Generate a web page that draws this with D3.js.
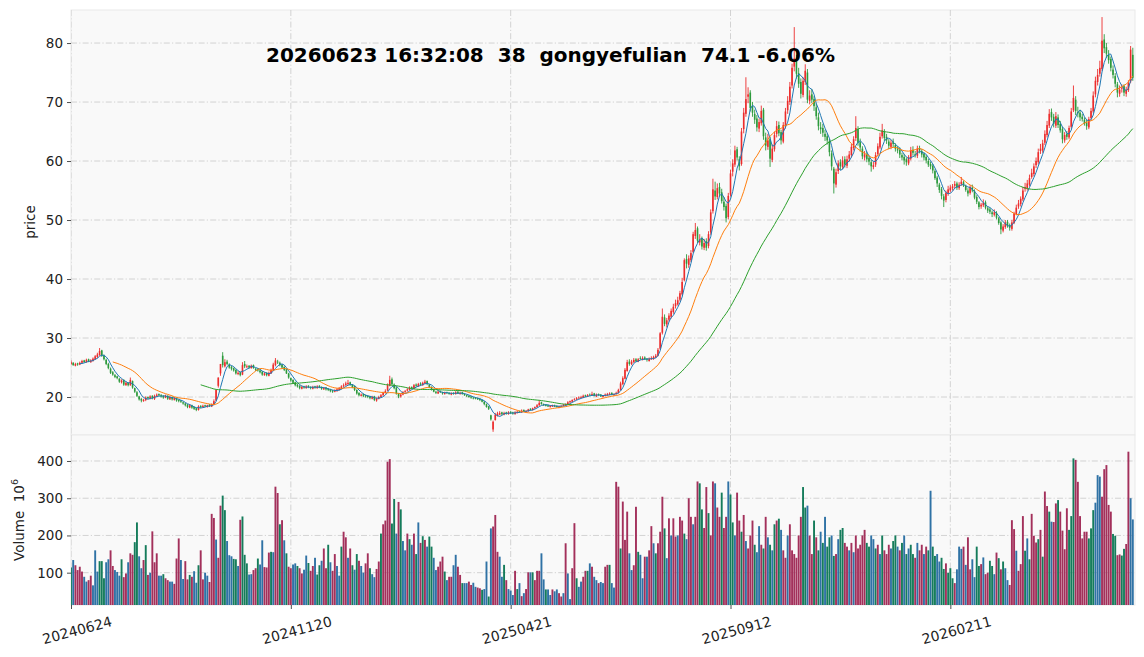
<!DOCTYPE html>
<html>
<head>
<meta charset="utf-8">
<script src="https://cdn.jsdelivr.net/npm/d3@7"></script>
<style>
  body { margin: 0; background: #fff; }
  svg { display: block; font-family: "DejaVu Sans", sans-serif; }
</style>
</head>
<body>
<svg id="chart" width="1144" height="657"></svg>
<script>
// ---- data (one entry per trading day) ----
const titleText = '20260623 16:32:08  38  gongyefulian  74.1 -6.06%'
const tickIdx = [0, 100, 200, 300, 400]
const tickLabels = ['20240624', '20241120', '20250421', '20250912', '20260211']
const priceTicks = [20, 30, 40, 50, 60, 70, 80]
const volTicks = [100, 200, 300, 400]
const maPeriods = [5, 20, 60]

const opens = [
  25.6, 25.8, 25.3, 25.7, 25.5, 25.8, 26.2, 25.9, 26.4, 25.9,
  26.1, 26.4, 26.8, 27.1, 27.9, 27.0, 26.3, 25.6, 24.8, 24.2,
  23.7, 23.5, 23.1, 22.5, 22.9, 22.0, 22.4, 22.0, 22.7, 21.5,
  20.8, 20.1, 19.7, 19.3, 19.5, 20.0, 19.8, 20.2, 19.7, 20.2,
  20.5, 20.3, 20.2, 19.9, 20.2, 19.6, 20.0, 19.5, 19.8, 19.5,
  19.4, 19.1, 18.9, 18.7, 18.2, 18.6, 18.3, 18.1, 17.8, 18.5,
  18.3, 18.6, 18.3, 18.7, 18.4, 18.7, 19.4, 21.9, 24.0, 27.0,
  25.2, 26.0, 25.5, 25.1, 24.9, 24.6, 23.9, 24.2, 23.8, 25.6,
  25.1, 25.3, 24.9, 25.4, 24.8, 24.7, 24.5, 24.3, 23.7, 24.1,
  23.6, 24.0, 24.5, 25.4, 26.0, 25.8, 25.5, 25.1, 24.7, 24.0,
  23.2, 22.9, 22.5, 22.1, 21.9, 21.4, 21.8, 21.5, 21.9, 21.7,
  21.4, 21.8, 21.5, 21.9, 21.7, 21.3, 21.6, 21.4, 21.3, 21.1,
  20.9, 21.0, 21.2, 21.4, 21.8, 22.0, 22.2, 22.5, 22.1, 21.8,
  21.2, 20.7, 20.2, 20.5, 20.3, 20.2, 20.1, 19.7, 20.1, 19.4,
  19.7, 20.0, 20.3, 20.7, 21.1, 21.9, 23.0, 22.1, 21.6, 20.5,
  20.1, 20.4, 20.9, 21.1, 21.2, 21.7, 21.4, 22.1, 21.8, 22.3,
  22.0, 22.3, 22.7, 22.1, 21.7, 21.3, 20.9, 20.6, 21.0, 20.8,
  20.5, 20.8, 20.7, 20.4, 20.7, 20.5, 20.9, 20.5, 20.8, 20.5,
  20.3, 20.2, 20.1, 19.9, 19.9, 19.8, 19.7, 19.5, 19.2, 18.8,
  18.4, 16.9, 14.5, 16.1, 16.8, 17.0, 17.4, 17.0, 17.4, 17.1,
  17.5, 17.4, 17.1, 17.3, 17.6, 17.4, 17.8, 17.5, 17.6, 18.0,
  17.8, 18.1, 18.3, 18.6, 19.1, 18.8, 18.7, 18.6, 18.3, 18.4,
  18.6, 18.5, 18.2, 18.4, 18.5, 18.6, 18.8, 19.1, 19.2, 19.5,
  19.6, 19.8, 20.0, 19.9, 20.3, 20.1, 20.4, 20.3, 20.6, 20.1,
  20.5, 20.4, 20.0, 20.2, 20.3, 20.4, 20.7, 20.3, 20.5, 20.7,
  21.2, 22.2, 23.1, 24.4, 26.0, 25.6, 25.9, 26.4, 26.0, 26.6,
  26.3, 26.7, 26.5, 26.1, 26.4, 26.5, 26.7, 27.0, 28.2, 30.9,
  33.5, 32.3, 33.1, 33.6, 34.4, 35.4, 35.7, 36.5, 37.4, 39.8,
  43.4, 42.4, 43.2, 44.6, 47.3, 48.6, 46.2, 46.9, 45.3, 46.4,
  45.6, 47.9, 51.5, 55.0, 53.9, 55.6, 54.7, 53.1, 52.4, 50.5,
  54.3, 58.2, 59.4, 62.0, 60.3, 59.5, 65.4, 68.0, 70.9, 71.6,
  69.3, 68.0, 67.2, 65.5, 66.4, 68.7, 64.0, 62.4, 63.7, 60.2,
  62.0, 64.6, 66.1, 64.9, 63.3, 66.0, 68.6, 70.0, 72.8, 76.0,
  77.0, 74.9, 73.4, 71.2, 73.4, 75.0, 70.2, 71.3, 70.5, 69.1,
  67.4, 65.7, 65.6, 64.6, 64.2, 63.4, 61.3, 58.7, 56.0, 58.3,
  59.8, 59.0, 60.3, 59.2, 60.4, 61.0, 62.2, 63.9, 65.4, 63.2,
  62.1, 60.6, 61.2, 60.5, 59.8, 59.0, 59.4, 61.2, 62.3, 64.2,
  65.0, 64.1, 63.3, 62.4, 63.3, 62.7, 62.0, 61.9, 61.0, 60.7,
  60.3, 59.6, 60.4, 61.9, 61.2, 60.9, 62.2, 61.7, 61.2, 60.7,
  60.0, 59.5, 59.2, 58.3, 57.2, 56.0, 55.2, 54.0, 53.4, 54.5,
  55.0, 55.4, 55.8, 56.2, 55.4, 56.1, 56.4, 55.8, 55.0, 54.6,
  55.5, 54.9, 53.9, 53.0, 52.3, 52.5, 53.0, 52.0, 51.8, 51.3,
  50.9, 51.2, 50.3, 49.6, 48.2, 48.8, 49.7, 49.1, 48.5, 49.5,
  51.0, 52.3, 52.7, 53.5, 55.3, 55.4, 56.0, 57.3, 57.8, 59.3,
  59.8, 61.7, 61.8, 63.1, 64.4, 66.0, 68.3, 67.5, 66.0, 67.4,
  66.3, 65.4, 63.5, 64.6, 64.0, 65.8, 68.6, 70.4, 68.3, 68.2,
  67.5, 67.0, 66.5, 65.7, 67.3, 68.4, 71.3, 73.4, 74.8, 75.6,
  80.6, 79.3, 78.0, 77.3, 75.5, 74.4, 73.0, 71.4, 72.3, 72.7,
  71.4, 72.0, 73.5, 78.0
]

const highs = [
  26.2, 25.9, 25.8, 25.8, 26.0, 26.3, 26.3, 26.5, 26.5, 26.4,
  26.7, 27.1, 27.5, 28.3, 28.0, 27.2, 26.5, 25.8, 25.0, 24.4,
  23.9, 23.6, 23.2, 23.0, 23.0, 22.6, 22.5, 23.3, 22.8, 21.6,
  21.0, 20.2, 19.8, 19.7, 20.1, 20.1, 20.3, 20.3, 20.4, 20.6,
  20.6, 20.5, 20.3, 20.4, 20.3, 20.2, 20.1, 20.0, 19.9, 19.6,
  19.5, 19.2, 19.0, 18.8, 18.8, 18.7, 18.4, 18.2, 18.6, 18.6,
  18.7, 18.7, 18.7, 18.8, 18.9, 19.6, 21.2, 23.3, 25.6, 27.6,
  26.4, 26.3, 25.7, 25.3, 25.0, 24.7, 24.4, 24.3, 25.9, 26.1,
  25.5, 25.4, 25.5, 25.5, 24.9, 24.9, 24.7, 24.4, 24.2, 24.2,
  24.3, 24.8, 25.8, 26.6, 26.3, 26.0, 25.6, 25.2, 24.8, 24.1,
  23.3, 23.0, 22.6, 22.2, 22.0, 21.9, 21.9, 22.0, 22.0, 21.8,
  21.9, 21.9, 22.0, 22.0, 21.8, 21.7, 21.7, 21.5, 21.4, 21.2,
  21.3, 21.5, 21.7, 22.0, 22.3, 22.6, 22.9, 22.6, 22.2, 21.9,
  21.3, 20.8, 20.6, 20.6, 20.4, 20.3, 20.2, 20.2, 20.2, 19.9,
  20.2, 20.5, 20.9, 21.3, 22.3, 23.6, 23.3, 22.3, 21.7, 20.7,
  20.6, 21.0, 21.2, 21.5, 21.8, 21.8, 22.2, 22.3, 22.4, 22.5,
  22.6, 22.9, 22.8, 22.2, 21.8, 21.4, 21.0, 21.1, 21.1, 20.9,
  20.9, 20.9, 20.8, 20.8, 20.8, 21.0, 21.0, 20.9, 20.9, 20.6,
  20.4, 20.3, 20.2, 20.0, 20.0, 19.9, 19.8, 19.6, 19.3, 18.9,
  18.5, 17.0, 16.0, 17.3, 17.5, 17.6, 17.5, 17.5, 17.5, 17.6,
  17.6, 17.5, 17.6, 17.7, 17.7, 17.9, 17.9, 17.8, 18.0, 18.1,
  18.2, 18.4, 18.8, 19.5, 19.2, 18.9, 18.8, 18.7, 18.6, 18.7,
  18.7, 18.6, 18.5, 18.6, 18.8, 18.9, 19.3, 19.4, 19.6, 19.8,
  20.0, 20.1, 20.2, 20.4, 20.4, 20.5, 20.6, 20.9, 20.7, 20.6,
  20.6, 20.5, 20.3, 20.6, 20.7, 20.8, 20.8, 20.6, 20.9, 21.4,
  22.6, 23.5, 24.9, 26.3, 26.4, 26.3, 26.6, 26.6, 26.6, 26.9,
  26.9, 26.9, 26.6, 26.7, 26.9, 27.0, 27.3, 28.3, 31.0, 35.0,
  34.0, 33.4, 34.2, 35.0, 35.8, 36.5, 37.0, 38.0, 40.2, 43.5,
  44.2, 44.0, 44.9, 48.0, 49.5, 48.9, 47.6, 47.2, 46.8, 46.9,
  48.1, 51.8, 57.0, 56.5, 56.2, 56.3, 55.3, 53.9, 52.8, 54.6,
  58.5, 60.3, 62.6, 62.4, 60.8, 65.6, 69.0, 74.2, 72.5, 72.0,
  70.0, 68.7, 67.8, 67.2, 69.4, 69.0, 64.8, 64.6, 64.1, 62.8,
  65.0, 66.8, 66.7, 65.3, 66.6, 69.0, 71.0, 73.4, 76.5, 82.7,
  78.0, 75.8, 74.0, 74.2, 76.4, 75.6, 72.0, 72.2, 71.0, 69.8,
  68.2, 66.6, 66.3, 65.3, 64.7, 63.8, 61.8, 59.0, 58.7, 60.1,
  60.3, 60.8, 60.8, 60.9, 61.7, 62.9, 64.2, 67.6, 65.9, 63.8,
  62.5, 61.7, 61.6, 60.9, 60.2, 59.9, 61.5, 63.0, 64.8, 66.3,
  65.4, 64.6, 63.7, 63.6, 63.8, 63.0, 62.5, 62.3, 61.4, 61.2,
  60.6, 61.0, 62.4, 62.5, 61.7, 62.6, 62.6, 62.0, 61.5, 61.0,
  60.4, 59.9, 59.5, 58.6, 57.5, 56.3, 55.6, 54.4, 55.0, 55.8,
  55.9, 56.1, 56.6, 56.5, 56.4, 57.3, 56.7, 56.0, 55.4, 55.9,
  56.0, 55.2, 54.2, 53.2, 52.9, 53.5, 53.3, 52.3, 52.1, 51.6,
  51.8, 51.5, 50.5, 49.8, 49.3, 50.0, 50.0, 49.4, 50.0, 51.4,
  52.6, 53.4, 54.0, 55.6, 56.3, 56.8, 57.7, 58.7, 59.6, 60.6,
  62.1, 62.9, 63.6, 65.2, 66.8, 68.8, 68.9, 68.0, 68.3, 67.9,
  66.8, 65.8, 64.9, 65.1, 66.0, 69.0, 72.8, 71.0, 69.2, 68.7,
  68.0, 67.4, 67.0, 67.5, 69.0, 71.8, 74.3, 75.6, 77.0, 84.4,
  81.5, 80.0, 78.8, 77.7, 76.2, 74.9, 73.4, 72.8, 73.0, 73.0,
  72.6, 73.7, 79.5, 79.2
]

const lows = [
  25.4, 25.3, 25.2, 25.3, 25.4, 25.7, 25.8, 25.8, 25.9, 25.8,
  26.0, 26.3, 26.6, 27.0, 26.8, 26.2, 25.4, 24.7, 23.9, 23.6,
  23.2, 23.0, 22.4, 22.3, 21.9, 21.9, 21.8, 21.9, 21.4, 20.7,
  20.0, 19.4, 19.1, 19.2, 19.3, 19.6, 19.6, 19.6, 19.5, 20.0,
  20.1, 19.9, 19.7, 19.8, 19.5, 19.5, 19.4, 19.4, 19.2, 19.1,
  19.0, 18.7, 18.4, 18.1, 18.1, 18.0, 17.8, 17.6, 17.7, 18.1,
  18.2, 18.3, 18.2, 18.3, 18.3, 18.6, 19.3, 21.6, 23.6, 25.0,
  25.0, 25.4, 24.8, 24.5, 24.3, 23.8, 23.7, 23.5, 23.7, 24.9,
  24.9, 24.8, 24.8, 24.8, 24.4, 24.3, 24.0, 23.6, 23.6, 23.5,
  23.5, 23.9, 24.4, 25.2, 25.6, 25.2, 24.8, 24.4, 23.9, 23.1,
  22.6, 22.2, 21.8, 21.6, 21.3, 21.3, 21.4, 21.4, 21.5, 21.3,
  21.3, 21.4, 21.4, 21.5, 21.2, 21.2, 21.1, 21.0, 20.8, 20.7,
  20.8, 20.9, 21.1, 21.3, 21.6, 21.9, 22.0, 21.9, 21.5, 21.0,
  20.4, 20.1, 20.1, 20.0, 19.9, 19.8, 19.6, 19.6, 19.3, 19.2,
  19.6, 19.9, 20.2, 20.6, 21.0, 21.8, 22.0, 21.3, 20.4, 19.8,
  19.9, 20.3, 20.7, 20.9, 21.1, 21.3, 21.3, 21.7, 21.7, 21.9,
  21.9, 22.2, 22.0, 21.5, 21.1, 20.8, 20.5, 20.5, 20.7, 20.4,
  20.4, 20.5, 20.4, 20.3, 20.4, 20.4, 20.5, 20.4, 20.4, 20.2,
  20.0, 19.9, 19.7, 19.6, 19.6, 19.5, 19.3, 19.1, 18.6, 18.2,
  17.8, 16.0, 14.1, 16.0, 16.7, 16.9, 16.9, 16.9, 17.0, 17.0,
  17.1, 17.0, 17.0, 17.2, 17.3, 17.3, 17.5, 17.4, 17.5, 17.7,
  17.7, 18.0, 18.2, 18.5, 18.7, 18.5, 18.4, 18.3, 18.2, 18.3,
  18.3, 18.2, 18.1, 18.3, 18.4, 18.5, 18.7, 19.0, 19.1, 19.4,
  19.5, 19.7, 19.8, 19.8, 20.0, 20.0, 20.2, 20.2, 20.1, 20.0,
  20.2, 20.0, 19.9, 20.1, 20.2, 20.3, 20.3, 20.2, 20.4, 20.6,
  21.1, 22.0, 23.0, 24.3, 25.3, 25.4, 25.8, 25.9, 25.9, 26.3,
  26.2, 26.3, 26.0, 26.0, 26.3, 26.3, 26.6, 26.9, 28.0, 30.6,
  32.0, 31.8, 32.8, 33.3, 34.1, 35.0, 35.5, 36.2, 37.2, 39.6,
  41.8, 41.9, 42.9, 44.4, 46.8, 46.1, 45.7, 45.0, 44.9, 44.8,
  45.2, 47.5, 51.1, 53.4, 53.5, 54.0, 52.8, 51.6, 49.6, 50.1,
  54.0, 57.4, 59.0, 60.1, 58.4, 59.2, 64.7, 67.5, 69.8, 68.4,
  67.5, 66.3, 65.0, 64.9, 66.0, 63.6, 61.8, 61.9, 59.0, 59.8,
  61.6, 64.0, 64.2, 62.8, 63.0, 65.5, 68.0, 69.5, 72.3, 75.2,
  74.0, 72.4, 70.6, 70.8, 72.9, 69.8, 69.6, 69.8, 68.5, 67.0,
  65.2, 64.6, 64.1, 63.4, 62.8, 60.8, 58.4, 54.5, 55.5, 57.8,
  58.5, 58.6, 58.9, 58.8, 59.9, 60.6, 61.8, 63.4, 62.6, 61.6,
  60.3, 60.1, 59.8, 59.3, 58.2, 58.6, 59.0, 60.8, 62.0, 63.8,
  63.4, 62.9, 62.0, 62.0, 62.3, 61.6, 61.3, 60.5, 60.1, 59.4,
  59.2, 59.3, 60.1, 60.9, 60.6, 60.5, 61.3, 60.6, 60.1, 59.6,
  59.0, 58.6, 57.9, 56.8, 55.6, 54.6, 53.5, 52.2, 53.0, 54.1,
  54.7, 55.0, 55.4, 55.1, 55.1, 55.8, 55.6, 54.8, 54.0, 54.3,
  54.7, 53.5, 52.7, 51.8, 51.9, 52.2, 51.8, 51.2, 51.0, 50.5,
  50.6, 50.1, 49.2, 47.6, 47.9, 48.5, 48.7, 48.2, 48.2, 49.3,
  50.8, 51.9, 52.3, 53.2, 54.8, 55.0, 55.7, 57.0, 57.4, 58.8,
  59.4, 61.2, 61.4, 62.7, 64.0, 65.6, 66.8, 65.7, 65.6, 65.6,
  64.8, 63.0, 63.1, 63.6, 63.7, 65.5, 68.3, 67.8, 67.4, 66.8,
  66.7, 66.0, 65.3, 65.4, 67.0, 68.1, 70.8, 72.8, 74.3, 75.3,
  78.3, 77.5, 76.5, 75.2, 74.0, 72.5, 70.8, 70.9, 71.6, 71.0,
  70.9, 71.7, 73.2, 73.6
]

const closes = [
  25.9, 25.4, 25.6, 25.5, 25.8, 26.1, 25.9, 26.3, 26.0, 26.2,
  26.5, 26.9, 27.2, 27.8, 27.0, 26.4, 25.6, 24.9, 24.1, 23.8,
  23.4, 23.2, 22.6, 22.8, 22.1, 22.4, 22.0, 22.9, 21.6, 20.9,
  20.2, 19.6, 19.4, 19.5, 19.9, 19.8, 20.1, 19.8, 20.2, 20.4,
  20.3, 20.1, 19.9, 20.2, 19.7, 20.0, 19.6, 19.8, 19.4, 19.3,
  19.2, 18.9, 18.6, 18.3, 18.6, 18.2, 18.0, 17.8, 18.4, 18.3,
  18.5, 18.4, 18.6, 18.5, 18.7, 19.3, 21.2, 23.3, 25.6, 25.4,
  25.9, 25.6, 25.0, 24.8, 24.5, 24.0, 24.1, 23.7, 25.4, 25.2,
  25.2, 25.0, 25.3, 24.9, 24.6, 24.5, 24.2, 23.8, 24.0, 23.7,
  24.1, 24.6, 25.5, 26.2, 25.9, 25.4, 25.0, 24.6, 24.0, 23.3,
  22.8, 22.4, 22.0, 21.8, 21.5, 21.7, 21.6, 21.8, 21.7, 21.5,
  21.7, 21.6, 21.8, 21.6, 21.4, 21.5, 21.3, 21.2, 21.0, 20.9,
  21.1, 21.3, 21.5, 21.8, 22.0, 22.3, 22.4, 22.1, 21.7, 21.2,
  20.6, 20.3, 20.4, 20.2, 20.1, 20.0, 19.8, 20.0, 19.5, 19.7,
  20.0, 20.3, 20.7, 21.0, 22.0, 22.9, 22.2, 21.5, 20.6, 20.1,
  20.4, 20.8, 21.0, 21.3, 21.6, 21.5, 22.0, 21.9, 22.2, 22.1,
  22.4, 22.6, 22.2, 21.7, 21.3, 20.9, 20.7, 20.9, 20.8, 20.6,
  20.7, 20.7, 20.5, 20.6, 20.6, 20.8, 20.6, 20.7, 20.5, 20.3,
  20.2, 20.0, 19.9, 19.8, 19.7, 19.6, 19.5, 19.2, 18.8, 18.3,
  18.0, 16.2, 15.8, 17.0, 17.2, 17.3, 17.1, 17.3, 17.2, 17.4,
  17.3, 17.2, 17.4, 17.5, 17.5, 17.7, 17.6, 17.6, 17.9, 17.8,
  18.1, 18.3, 18.6, 19.0, 18.8, 18.6, 18.5, 18.4, 18.5, 18.6,
  18.4, 18.3, 18.4, 18.5, 18.7, 18.8, 19.1, 19.3, 19.5, 19.6,
  19.8, 19.9, 20.0, 20.2, 20.1, 20.3, 20.3, 20.5, 20.2, 20.4,
  20.3, 20.1, 20.2, 20.4, 20.5, 20.6, 20.4, 20.5, 20.7, 21.2,
  22.3, 23.2, 24.6, 25.9, 25.6, 26.0, 26.3, 26.1, 26.4, 26.5,
  26.6, 26.4, 26.3, 26.5, 26.6, 26.8, 27.0, 28.0, 30.8, 33.6,
  32.4, 33.0, 33.8, 34.6, 35.3, 35.9, 36.4, 37.6, 39.5, 43.2,
  42.6, 43.5, 44.4, 47.6, 48.3, 46.5, 46.7, 45.5, 46.1, 45.3,
  47.6, 51.3, 55.2, 54.0, 55.4, 54.5, 53.2, 52.2, 50.3, 54.1,
  57.9, 59.6, 61.8, 60.6, 59.1, 65.0, 68.2, 70.5, 71.3, 69.0,
  68.2, 67.0, 65.7, 66.6, 68.5, 64.2, 62.6, 63.5, 60.4, 62.1,
  64.4, 65.9, 64.7, 63.5, 66.1, 68.4, 70.2, 72.6, 75.8, 77.4,
  74.8, 73.1, 71.4, 73.6, 75.3, 70.4, 71.1, 70.4, 69.3, 67.6,
  65.9, 65.4, 64.8, 64.1, 63.5, 61.5, 59.1, 56.2, 58.1, 59.6,
  59.1, 60.1, 59.4, 60.3, 61.1, 62.4, 63.7, 65.6, 63.1, 62.3,
  60.8, 61.1, 60.3, 59.9, 59.1, 59.3, 61.0, 62.5, 64.1, 65.2,
  63.9, 63.5, 62.6, 63.1, 62.9, 62.1, 61.8, 61.1, 60.6, 60.1,
  59.8, 60.6, 61.8, 61.4, 61.1, 62.1, 61.8, 61.1, 60.6, 60.1,
  59.4, 59.1, 58.4, 57.1, 56.2, 55.1, 54.1, 53.3, 54.6, 55.2,
  55.5, 55.7, 56.1, 55.5, 56.0, 56.5, 55.9, 55.1, 54.5, 55.6,
  55.0, 53.8, 53.1, 52.2, 52.6, 52.9, 52.1, 51.6, 51.4, 51.0,
  51.3, 50.4, 49.5, 48.4, 48.9, 49.6, 49.0, 48.7, 49.6, 51.1,
  52.1, 52.8, 53.6, 55.0, 55.6, 56.2, 57.1, 58.0, 59.1, 60.0,
  61.5, 62.1, 63.0, 64.6, 66.1, 68.0, 67.4, 66.3, 67.6, 66.1,
  65.2, 63.7, 64.4, 64.1, 65.6, 68.4, 70.7, 68.5, 68.1, 67.4,
  67.1, 66.4, 65.9, 67.1, 68.5, 71.1, 73.6, 74.6, 75.8, 80.4,
  79.1, 78.2, 77.1, 75.8, 74.6, 73.1, 71.6, 72.1, 72.4, 71.6,
  72.1, 73.2, 78.88, 74.1
]

// volume in units of 10^6
const volumes = [
  114, 134, 120, 107, 116, 103, 89, 76, 80, 92,
  66, 160, 103, 131, 131, 85, 128, 136, 160, 118,
  107, 102, 92, 136, 88, 98, 128, 152, 148, 182,
  235, 144, 112, 134, 174, 94, 100, 211, 128, 152,
  92, 92, 96, 85, 80, 76, 76, 70, 138, 192,
  134, 83, 131, 82, 94, 89, 104, 73, 120, 160,
  82, 100, 92, 75, 258, 247, 189, 140, 280, 307,
  268, 185, 147, 144, 137, 136, 118, 242, 251, 148,
  125, 95, 96, 107, 112, 138, 122, 187, 115, 114,
  154, 156, 155, 331, 314, 230, 241, 187, 152, 116,
  112, 122, 125, 118, 112, 98, 108, 146, 126, 105,
  118, 140, 95, 120, 132, 165, 112, 175, 128, 105,
  150, 118, 92, 170, 210, 195, 140, 165, 120, 108,
  150, 132, 118, 100, 125, 152, 112, 96, 88, 110,
  130, 205, 230, 240, 398, 405, 232, 298, 205, 290,
  270, 185, 160, 205, 190, 175, 205, 150, 235, 180,
  198, 188, 170, 197, 170, 140, 107, 116, 130, 143,
  103, 80, 89, 89, 120, 148, 116, 94, 72, 72,
  72, 76, 67, 73, 62, 60, 58, 54, 56, 130,
  36, 219, 224, 255, 156, 143, 89, 121, 80, 56,
  52, 40, 105, 56, 72, 37, 45, 56, 101, 101,
  101, 80, 105, 105, 152, 82, 55, 55, 40, 55,
  50, 55, 45, 36, 45, 179, 98, 29, 112, 233,
  85, 62, 76, 89, 105, 105, 125, 116, 89, 80,
  72, 75, 72, 116, 121, 121, 72, 60, 344, 331,
  165, 291, 188, 264, 152, 107, 120, 277, 156, 148,
  85, 143, 143, 160, 225, 179, 152, 179, 210, 304,
  219, 139, 246, 200, 246, 197, 200, 250, 240, 205,
  190, 300, 250, 230, 250, 345, 340, 270, 220, 330,
  260, 200, 345, 340, 275, 250, 315, 220, 250, 345,
  310, 235, 200, 315, 240, 210, 255, 185, 165, 200,
  240, 175, 155, 225, 175, 165, 250, 195, 175, 160,
  230, 240, 245, 215, 160, 140, 200, 230, 160, 150,
  140, 200, 250, 330, 275, 280, 200, 150, 240, 195,
  160, 210, 180, 250, 170, 195, 200, 145, 150, 190,
  215, 220, 180, 170, 160, 180, 155, 200, 165, 175,
  200, 215, 180, 170, 200, 190, 165, 175, 150, 200,
  160, 150, 175, 165, 185, 200, 170, 160, 180, 200,
  150, 165, 175, 150, 140, 180, 160, 175, 150, 170,
  160, 320, 170, 145, 150, 130, 140, 110, 125, 100,
  112, 85, 72, 109, 170, 164, 170, 121, 195, 109,
  136, 88, 170, 118, 123, 141, 96, 100, 132, 118,
  96, 154, 139, 109, 130, 112, 80, 67, 241, 217,
  159, 105, 123, 252, 159, 192, 136, 258, 199, 181,
  190, 215, 143, 318, 279, 264, 237, 236, 286, 295,
  264, 213, 163, 273, 215, 252, 407, 403, 344, 252,
  192, 210, 210, 192, 219, 268, 288, 362, 358, 304,
  378, 389, 282, 264, 204, 199, 147, 149, 146, 164,
  177, 425, 300, 243
]

// volume bar colour per day: B blue, R crimson, G green
const volCodes = [
  'GBRRRRBBRR', 'BBBGGGBBRR', 'BBBGRRBRRG', 'GBBRGRBRRR', 'BBGRRBBRRR',
  'BBRRGRBBGR', 'RBBRRRBRRG', 'GBBBGGBRGG', 'GBBRRGBBRR', 'RGBRRGRBGR',
  'RBBGRRBBGR', 'RBGGBRRGBR', 'RBBGRRBRGB', 'GRBBRRGBBR', 'RGRRRRGGBR',
  'GBBRGBRGBR', 'GRBGGBBRRR', 'GBRRBBRRGB', 'BRRBBRRGBB', 'GBRRRBBGRB',
  'BBRGBRBRRB', 'GRRRBBGBBR', 'BBRRBRBBRR', 'GBBRRGBRBB', 'RBBRRGBBRR',
  'GRRRBBRRGB', 'BRBRRBGRRR', 'GBRBRRBRRG', 'BRRBRRGGRR', 'GRRBRRGRRB',
  'GGBRRGRBRR', 'RGBBRGRBGB', 'GRGBRRBRRR', 'RRRGGBRRGR', 'GBGBGGBGRB',
  'GGRRBRBRRR', 'RRGGBBGRBG', 'RRRBGGBRGB', 'GBGGRBRRBR', 'GBGGBBGGRG',
  'GGRBBBRBRR', 'BBGGRBRRGG', 'BRGRGBBRRR', 'BRRRGBGRRR', 'GRGRRGBRRG',
  'RRRRGGGRRR', 'RRRGGGBBBR', 'RRRRGGRRGG', 'RRBBGRGRRG'
].join('').split('')

const volColor = { B: '#2f72a5', R: '#a3305b', G: '#157c5b' }
const upColor = '#ec2c2c'
const downColor = '#2c9a3c'
const maColors = ['#1f77b4', '#ff7f0e', '#2ca02c']

// ---- layout ----
const left = 71, right = 1135
const pTop = 10, pBottom = 435
const vTop = 435, vBottom = 605
const N = closes.length

const svg = d3.select('#chart')
const x = d3.scaleLinear().domain([0, N]).range([left, right])
const yP = d3.scaleLinear().domain([13.56, 85.6]).range([pBottom, pTop])
const yV = d3.scaleLinear().domain([13.2, 469.8]).range([vBottom, vTop])

let sma = function (arr, n) {
  let out = []
  let sum = 0
  for (let i = 0; i < arr.length; i++) {
    sum += arr[i]
    if (i >= n) sum -= arr[i - n]
    if (i >= n - 1) out.push([i, sum / n])
  }
  return out
}

let panel = function (id, top, bottom) {
  let defs = svg.append('defs')
  defs.append('clipPath').attr('id', id)
    .append('rect')
    .attr('x', left).attr('y', top)
    .attr('width', right - left).attr('height', bottom - top)
  svg.append('rect')
    .attr('x', left).attr('y', top)
    .attr('width', right - left).attr('height', bottom - top)
    .attr('fill', '#f9f9f9')
    .attr('stroke', '#e9e9e9')
    .attr('stroke-width', 1)
  return svg.append('g').attr('clip-path', `url(#${id})`)
}

const gridStyle = g => g.attr('stroke', '#c9c9c9')
  .attr('stroke-width', 0.8)
  .attr('stroke-dasharray', '6,2.2,1.2,2.2')
  .attr('fill', 'none')

// price panel
const pg = panel('clip-price', pTop, pBottom)
pg.append('g').selectAll('line').data(priceTicks).join('line')
  .attr('x1', left).attr('x2', right)
  .attr('y1', d => yP(d)).attr('y2', d => yP(d))
  .call(gridStyle)
pg.append('g').selectAll('line').data(tickIdx).join('line')
  .attr('x1', d => x(d)).attr('x2', d => x(d))
  .attr('y1', pTop).attr('y2', pBottom)
  .call(gridStyle)

const candles = pg.append('g').selectAll('g').data(closes).join('g')
candles.append('line')
  .attr('x1', (d, i) => x(i)).attr('x2', (d, i) => x(i))
  .attr('y1', (d, i) => yP(highs[i])).attr('y2', (d, i) => yP(lows[i]))
  .attr('stroke', (d, i) => d >= opens[i] ? upColor : downColor)
  .attr('stroke-width', 0.9)
candles.append('rect')
  .attr('x', (d, i) => x(i) - 0.8)
  .attr('width', 1.6)
  .attr('y', (d, i) => yP(Math.max(d, opens[i])))
  .attr('height', (d, i) => Math.max(0.8, Math.abs(yP(d) - yP(opens[i]))))
  .attr('fill', (d, i) => d >= opens[i] ? upColor : downColor)

const line = d3.line().x(d => x(d[0])).y(d => yP(d[1]))
maPeriods.forEach((n, k) => {
  pg.append('path')
    .attr('d', line(sma(closes, n)))
    .attr('fill', 'none')
    .attr('stroke', maColors[k])
    .attr('stroke-width', 1)
})

// volume panel
const vg = panel('clip-vol', vTop, vBottom)
vg.append('g').selectAll('line').data(volTicks).join('line')
  .attr('x1', left).attr('x2', right)
  .attr('y1', d => yV(d)).attr('y2', d => yV(d))
  .call(gridStyle)
vg.append('g').selectAll('line').data(tickIdx).join('line')
  .attr('x1', d => x(d)).attr('x2', d => x(d))
  .attr('y1', vTop).attr('y2', vBottom)
  .call(gridStyle)
vg.append('g').selectAll('rect').data(volumes).join('rect')
  .attr('x', (d, i) => x(i) - 0.95)
  .attr('width', 1.9)
  .attr('y', d => yV(d))
  .attr('height', d => vBottom - yV(d))
  .attr('fill', (d, i) => volColor[volCodes[i]])

// axes
let styleAxis = function (g) {
  g.select('.domain').remove()
  g.selectAll('.tick line').attr('stroke', '#222').attr('stroke-width', 0.8)
  g.selectAll('.tick text').attr('fill', '#222').style('font-size', '13.5px')
    .style('font-family', '"DejaVu Sans", sans-serif')
}
svg.append('g').attr('transform', `translate(${left},0)`)
  .call(d3.axisLeft(yP).tickValues(priceTicks).tickSize(4).tickPadding(4))
  .call(styleAxis)
svg.append('g').attr('transform', `translate(${left},0)`)
  .call(d3.axisLeft(yV).tickValues(volTicks).tickSize(4).tickPadding(4))
  .call(styleAxis)
const xg = svg.append('g').attr('transform', `translate(0,${vBottom})`)
  .call(d3.axisBottom(x).tickValues(tickIdx).tickFormat((d, i) => tickLabels[i]).tickSize(4))
  .call(styleAxis)
xg.selectAll('.tick text')
  .style('font-size', '14px')
  .attr('text-anchor', 'middle')
  .attr('y', 0).attr('dy', 0)
  .attr('transform', 'translate(7,30) rotate(-15)')

svg.append('text')
  .attr('transform', 'translate(35,222) rotate(-90)')
  .attr('text-anchor', 'middle')
  .style('font-size', '13.5px').attr('fill', '#222')
  .text('price')
const vl = svg.append('text')
  .attr('transform', `translate(24,${(vTop + vBottom) / 2}) rotate(-90)`)
  .attr('text-anchor', 'middle')
  .style('font-size', '13.5px').attr('fill', '#222')
  .style('white-space', 'pre')
vl.append('tspan').text('Volume  10')
vl.append('tspan').attr('dy', -6).style('font-size', '9.5px').text('6')

svg.append('text')
  .attr('x', 266).attr('y', 62)
  .style('font-size', '20px').style('font-weight', 'bold')
  .style('white-space', 'pre')
  .attr('fill', '#000')
  .text(titleText)
</script>
</body>
</html>
